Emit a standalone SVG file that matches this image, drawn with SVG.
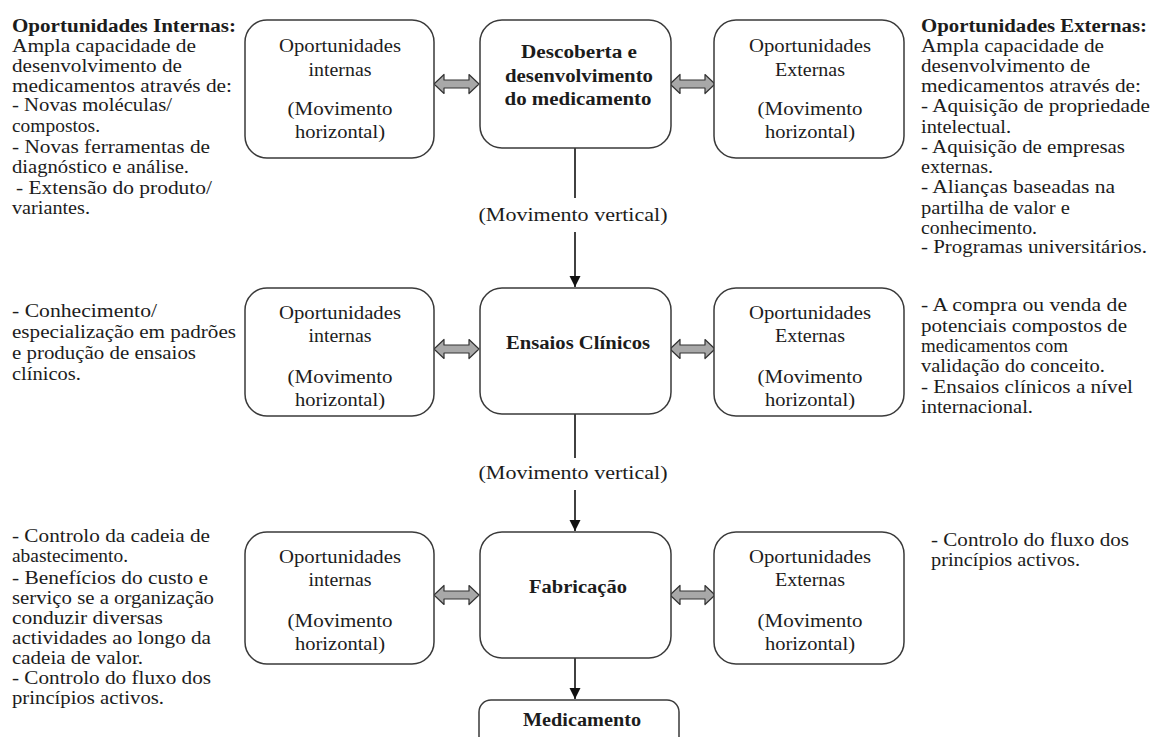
<svg xmlns="http://www.w3.org/2000/svg" width="1151" height="737" viewBox="0 0 1151 737">
  <style>
    .t { font-family: "Liberation Serif", "Times New Roman", serif; font-size: 18px; fill: #1c1c1c; }
    .b { font-weight: bold; }
    .c { text-anchor: middle; }
    .box { fill: #ffffff; stroke: #3a3a3a; stroke-width: 1.5; }
    .vline { stroke: #111111; stroke-width: 1.6; fill: none; }
    .dbl { fill: #a8a8a8; stroke: #333333; stroke-width: 1.2; stroke-linejoin: round; }
  </style>
  <defs>
    <marker id="head" viewBox="0 0 10 10" refX="10" refY="5" markerWidth="7" markerHeight="7" markerUnits="strokeWidth" orient="auto">
      <path d="M0,0 L10,5 L0,10 Z" fill="#111111"/>
    </marker>
    <!-- two-headed block arrow, 45 wide, centred on y=0 -->
    <path id="dblArrow" class="dbl" d="M0,0 L10,-9.5 L10,-4 L35,-4 L35,-9.5 L45,0 L35,9.5 L35,4 L10,4 L10,9.5 Z"/>
  </defs>
  <rect width="1151" height="737" fill="#ffffff"/>

  <!-- connectors -->
  <g id="connectors">
    <line class="vline" x1="575" y1="148" x2="575" y2="198"/>
    <line class="vline" x1="575" y1="232" x2="575" y2="287" marker-end="url(#head)"/>
    <line class="vline" x1="575" y1="414" x2="575" y2="458"/>
    <line class="vline" x1="575" y1="490" x2="575" y2="531" marker-end="url(#head)"/>
    <line class="vline" x1="575" y1="658" x2="575" y2="699" marker-end="url(#head)"/>
    <text class="t c" x="573" y="221" textLength="189" lengthAdjust="spacingAndGlyphs">(Movimento vertical)</text>
    <text class="t c" x="573" y="479" textLength="189" lengthAdjust="spacingAndGlyphs">(Movimento vertical)</text>
    <use href="#dblArrow" x="434" y="84"/>
    <use href="#dblArrow" x="670" y="84"/>
    <use href="#dblArrow" x="434" y="349"/>
    <use href="#dblArrow" x="670" y="349"/>
    <use href="#dblArrow" x="434" y="595"/>
    <use href="#dblArrow" x="670" y="595"/>
  </g>

  <!-- row 1 -->
  <g id="int-1">
    <rect class="box" x="245" y="20" width="189" height="138" rx="22"/>
    <text class="t c" x="340" y="52" textLength="122" lengthAdjust="spacingAndGlyphs">Oportunidades</text>
    <text class="t c" x="340" y="76" textLength="63" lengthAdjust="spacingAndGlyphs">internas</text>
    <text class="t c" x="340" y="115" textLength="105" lengthAdjust="spacingAndGlyphs">(Movimento</text>
    <text class="t c" x="340" y="138" textLength="90" lengthAdjust="spacingAndGlyphs">horizontal)</text>
  </g>
  <g id="stage-1">
    <rect class="box" x="480" y="20" width="191" height="128" rx="22"/>
    <text class="t b c" x="579" y="58" textLength="116" lengthAdjust="spacingAndGlyphs">Descoberta e</text>
    <text class="t b c" x="579" y="82" textLength="148" lengthAdjust="spacingAndGlyphs">desenvolvimento</text>
    <text class="t b c" x="578" y="105" textLength="147" lengthAdjust="spacingAndGlyphs">do medicamento</text>
  </g>
  <g id="ext-1">
    <rect class="box" x="714" y="20" width="190" height="138" rx="22"/>
    <text class="t c" x="810" y="52" textLength="122" lengthAdjust="spacingAndGlyphs">Oportunidades</text>
    <text class="t c" x="810" y="76" textLength="70" lengthAdjust="spacingAndGlyphs">Externas</text>
    <text class="t c" x="810" y="115" textLength="105" lengthAdjust="spacingAndGlyphs">(Movimento</text>
    <text class="t c" x="810" y="138" textLength="90" lengthAdjust="spacingAndGlyphs">horizontal)</text>
  </g>

  <!-- row 2 -->
  <g id="int-2">
    <rect class="box" x="245" y="288" width="189" height="128" rx="22"/>
    <text class="t c" x="340" y="319" textLength="122" lengthAdjust="spacingAndGlyphs">Oportunidades</text>
    <text class="t c" x="340" y="342" textLength="63" lengthAdjust="spacingAndGlyphs">internas</text>
    <text class="t c" x="340" y="383" textLength="105" lengthAdjust="spacingAndGlyphs">(Movimento</text>
    <text class="t c" x="340" y="406" textLength="90" lengthAdjust="spacingAndGlyphs">horizontal)</text>
  </g>
  <g id="stage-2">
    <rect class="box" x="480" y="288" width="191" height="126" rx="22"/>
    <text class="t b c" x="578" y="349" textLength="144" lengthAdjust="spacingAndGlyphs">Ensaios Clínicos</text>
  </g>
  <g id="ext-2">
    <rect class="box" x="714" y="288" width="190" height="128" rx="22"/>
    <text class="t c" x="810" y="319" textLength="122" lengthAdjust="spacingAndGlyphs">Oportunidades</text>
    <text class="t c" x="810" y="342" textLength="70" lengthAdjust="spacingAndGlyphs">Externas</text>
    <text class="t c" x="810" y="383" textLength="105" lengthAdjust="spacingAndGlyphs">(Movimento</text>
    <text class="t c" x="810" y="406" textLength="90" lengthAdjust="spacingAndGlyphs">horizontal)</text>
  </g>

  <!-- row 3 -->
  <g id="int-3">
    <rect class="box" x="245" y="532" width="189" height="132" rx="22"/>
    <text class="t c" x="340" y="563" textLength="122" lengthAdjust="spacingAndGlyphs">Oportunidades</text>
    <text class="t c" x="340" y="586" textLength="63" lengthAdjust="spacingAndGlyphs">internas</text>
    <text class="t c" x="340" y="627" textLength="105" lengthAdjust="spacingAndGlyphs">(Movimento</text>
    <text class="t c" x="340" y="650" textLength="90" lengthAdjust="spacingAndGlyphs">horizontal)</text>
  </g>
  <g id="stage-3">
    <rect class="box" x="480" y="532" width="191" height="126" rx="22"/>
    <text class="t b c" x="578" y="593" textLength="98" lengthAdjust="spacingAndGlyphs">Fabricação</text>
  </g>
  <g id="ext-3">
    <rect class="box" x="714" y="532" width="190" height="132" rx="22"/>
    <text class="t c" x="810" y="563" textLength="122" lengthAdjust="spacingAndGlyphs">Oportunidades</text>
    <text class="t c" x="810" y="586" textLength="70" lengthAdjust="spacingAndGlyphs">Externas</text>
    <text class="t c" x="810" y="627" textLength="105" lengthAdjust="spacingAndGlyphs">(Movimento</text>
    <text class="t c" x="810" y="650" textLength="90" lengthAdjust="spacingAndGlyphs">horizontal)</text>
  </g>

  <!-- result -->
  <g id="medicamento">
    <rect class="box" x="479" y="700" width="200" height="70" rx="12"/>
    <text class="t b c" x="582" y="726" textLength="118" lengthAdjust="spacingAndGlyphs">Medicamento</text>
  </g>

  <!-- side notes -->
  <g id="notes-int-1">
    <text class="t b" x="12" y="32" textLength="224" lengthAdjust="spacingAndGlyphs">Oportunidades Internas:</text>
    <text class="t" x="12" y="52" textLength="184" lengthAdjust="spacingAndGlyphs">Ampla capacidade  de</text>
    <text class="t" x="12" y="72" textLength="170" lengthAdjust="spacingAndGlyphs">desenvolvimento  de</text>
    <text class="t" x="12" y="92" textLength="220" lengthAdjust="spacingAndGlyphs">medicamentos  através  de:</text>
    <text class="t" x="12" y="111" textLength="160" lengthAdjust="spacingAndGlyphs">- Novas moléculas/</text>
    <text class="t" x="12" y="132" textLength="88" lengthAdjust="spacingAndGlyphs">compostos.</text>
    <text class="t" x="12" y="153" textLength="198" lengthAdjust="spacingAndGlyphs">- Novas ferramentas  de</text>
    <text class="t" x="12" y="173" textLength="177" lengthAdjust="spacingAndGlyphs">diagnóstico  e análise.</text>
    <text class="t" x="16" y="194" textLength="196" lengthAdjust="spacingAndGlyphs">- Extensão  do produto/</text>
    <text class="t" x="12" y="214" textLength="78" lengthAdjust="spacingAndGlyphs">variantes.</text>
  </g>
  <g id="notes-ext-1">
    <text class="t b" x="921" y="32" textLength="226" lengthAdjust="spacingAndGlyphs">Oportunidades Externas:</text>
    <text class="t" x="921" y="52" textLength="183" lengthAdjust="spacingAndGlyphs">Ampla capacidade  de</text>
    <text class="t" x="921" y="72" textLength="169" lengthAdjust="spacingAndGlyphs">desenvolvimento  de</text>
    <text class="t" x="921" y="92" textLength="220" lengthAdjust="spacingAndGlyphs">medicamentos  através  de:</text>
    <text class="t" x="921" y="112" textLength="229" lengthAdjust="spacingAndGlyphs">- Aquisição  de propriedade</text>
    <text class="t" x="921" y="133" textLength="90" lengthAdjust="spacingAndGlyphs">intelectual.</text>
    <text class="t" x="921" y="153" textLength="204" lengthAdjust="spacingAndGlyphs">- Aquisição  de empresas</text>
    <text class="t" x="921" y="173" textLength="72" lengthAdjust="spacingAndGlyphs">externas.</text>
    <text class="t" x="921" y="193" textLength="194" lengthAdjust="spacingAndGlyphs">- Alianças  baseadas  na</text>
    <text class="t" x="921" y="214" textLength="149" lengthAdjust="spacingAndGlyphs">partilha de valor e</text>
    <text class="t" x="921" y="234" textLength="116" lengthAdjust="spacingAndGlyphs">conhecimento.</text>
    <text class="t" x="921" y="253" textLength="226" lengthAdjust="spacingAndGlyphs">- Programas universitários.</text>
  </g>
  <g id="notes-int-2">
    <text class="t" x="12" y="317" textLength="145" lengthAdjust="spacingAndGlyphs">- Conhecimento/</text>
    <text class="t" x="12" y="338" textLength="224" lengthAdjust="spacingAndGlyphs">especialização  em padrões</text>
    <text class="t" x="12" y="359" textLength="184" lengthAdjust="spacingAndGlyphs">e produção  de ensaios</text>
    <text class="t" x="12" y="380" textLength="69" lengthAdjust="spacingAndGlyphs">clínicos.</text>
  </g>
  <g id="notes-ext-2">
    <text class="t" x="921" y="311" textLength="206" lengthAdjust="spacingAndGlyphs">- A compra ou venda de</text>
    <text class="t" x="921" y="332" textLength="206" lengthAdjust="spacingAndGlyphs">potenciais compostos  de</text>
    <text class="t" x="921" y="352" textLength="147" lengthAdjust="spacingAndGlyphs">medicamentos com</text>
    <text class="t" x="921" y="372" textLength="184" lengthAdjust="spacingAndGlyphs">validação do conceito.</text>
    <text class="t" x="921" y="393" textLength="212" lengthAdjust="spacingAndGlyphs">- Ensaios clínicos a nível</text>
    <text class="t" x="921" y="413" textLength="112" lengthAdjust="spacingAndGlyphs">internacional.</text>
  </g>
  <g id="notes-int-3">
    <text class="t" x="12" y="542" textLength="198" lengthAdjust="spacingAndGlyphs">- Controlo da cadeia de</text>
    <text class="t" x="12" y="562" textLength="116" lengthAdjust="spacingAndGlyphs">abastecimento.</text>
    <text class="t" x="12" y="584" textLength="196" lengthAdjust="spacingAndGlyphs">- Benefícios do custo e</text>
    <text class="t" x="12" y="604" textLength="202" lengthAdjust="spacingAndGlyphs">serviço se a organização</text>
    <text class="t" x="12" y="624" textLength="151" lengthAdjust="spacingAndGlyphs">conduzir diversas</text>
    <text class="t" x="12" y="644" textLength="199" lengthAdjust="spacingAndGlyphs">actividades ao longo da</text>
    <text class="t" x="12" y="664" textLength="131" lengthAdjust="spacingAndGlyphs">cadeia de valor.</text>
    <text class="t" x="12" y="684" textLength="199" lengthAdjust="spacingAndGlyphs">- Controlo do fluxo dos</text>
    <text class="t" x="12" y="704" textLength="152" lengthAdjust="spacingAndGlyphs">princípios activos.</text>
  </g>
  <g id="notes-ext-3">
    <text class="t" x="931" y="546" textLength="198" lengthAdjust="spacingAndGlyphs">- Controlo do fluxo dos</text>
    <text class="t" x="931" y="566" textLength="149" lengthAdjust="spacingAndGlyphs">princípios activos.</text>
  </g>
</svg>
